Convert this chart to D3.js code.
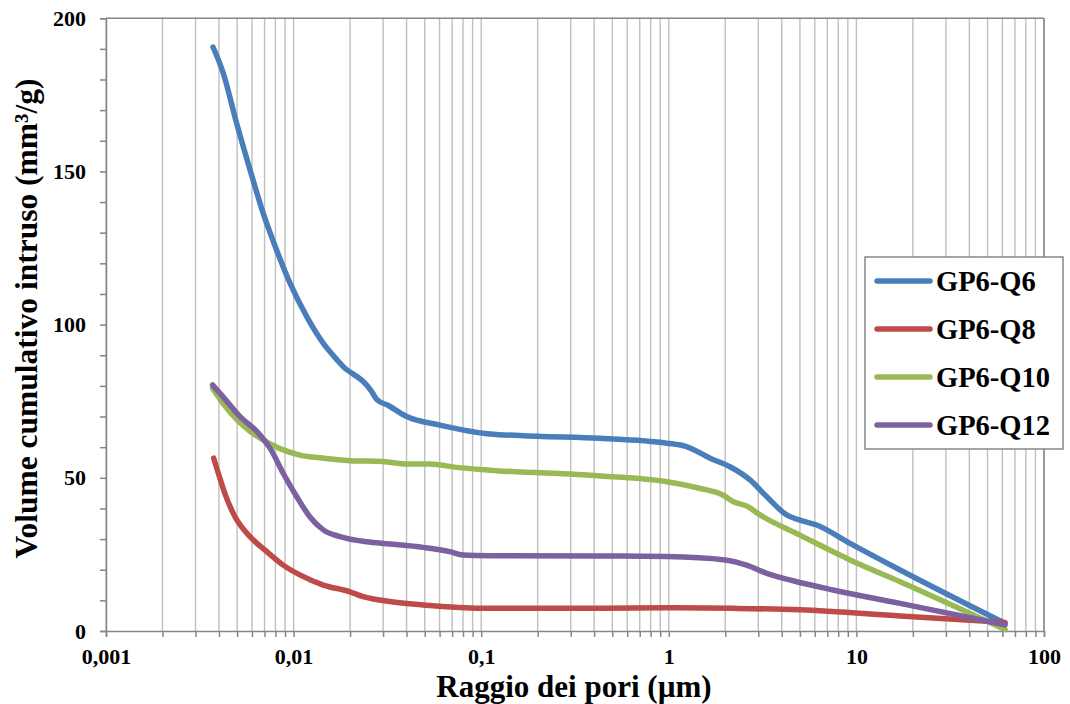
<!DOCTYPE html>
<html><head><meta charset="utf-8">
<script src="https://cdn.jsdelivr.net/npm/d3@7"></script>
<style>body{margin:0;background:#fff}svg{display:block}</style>
</head><body><svg id="c" width="1070" height="704"></svg>
<script>
const seriesNames = ["GP6-Q6","GP6-Q8","GP6-Q10","GP6-Q12"];
const seriesColors = ["#4A7EBB","#BE4B48","#98B954","#7D60A0"];
const q6X = [0.00372,0.00422,0.00497,0.00586,0.00689,0.00812,0.00957,0.01175,0.0144,0.0156,0.0184,0.0245,0.0261,0.0277,0.032,0.0401,0.0603,0.111,0.2,0.43,0.975,1.24,1.66,2.12,2.71,3.33,4.25,5.0,6.14,9.25,17.1,62];
const q6Y = [190.6,182,165.7,150.5,136.3,124.3,113.5,102.6,93.9,91.2,86.3,80.3,78.1,75.6,73.6,70.0,67.2,64.3,63.6,62.9,61.3,60.2,56.4,53.6,49.3,43.8,37.9,36.2,34.6,28.6,19.9,2.5];
const q8X = [0.00375,0.00397,0.0043,0.00487,0.00586,0.0072,0.0088,0.0108,0.0144,0.02,0.0235,0.0326,0.049,0.111,0.43,0.975,2.21,5.0,17.1,62];
const q8Y = [56.4,51.5,44.9,37.3,30.8,25.9,21.5,18.3,15.0,12.8,11.2,9.6,8.5,7.4,7.4,7.6,7.4,6.9,4.9,2.8];
const q10X = [0.0037,0.0042,0.005,0.0059,0.0069,0.0084,0.0108,0.0144,0.02,0.03,0.04,0.053,0.074,0.111,0.43,0.975,1.45,1.94,2.21,2.6,3.06,5.0,9.25,17.1,62];
const q10Y = [79.2,74.3,68.9,65.0,62.3,59.6,57.4,56.4,55.6,55.3,54.5,54.5,53.4,52.5,50.6,48.7,46.6,44.4,42.2,40.8,37.9,31.3,23.2,16.1,0.5];
const q12X = [0.0037,0.0042,0.0052,0.0064,0.0075,0.0088,0.0104,0.0122,0.0144,0.0177,0.0245,0.0326,0.049,0.068,0.080,0.111,0.43,0.975,2.0,2.6,3.33,4.6,7.5,17.1,62];
const q12Y = [80.3,76.5,69.9,65.0,59.6,51.5,43.8,37.3,33.0,30.8,29.1,28.4,27.3,25.9,24.8,24.6,24.5,24.3,23.2,21.5,18.8,16.4,13.4,9.0,2.0];
const xTickValues = [0.001,0.01,0.1,1,10,100];
const xTickLabels = ["0,001","0,01","0,1","1","10","100"];
const yTickValues = [0,50,100,150,200];
const xTitle = "Raggio dei pori (µm)";
const yTitle = "Volume cumulativo intruso (mm³/g)";

const seriesX = [q6X,q8X,q10X,q12X];
const seriesY = [q6Y,q8Y,q10Y,q12Y];
const FONT = "'Liberation Serif', 'Times New Roman', serif";

const svg = d3.select("#c");
const L=106, R=1044, T=18.2, B=631;
const x = d3.scaleLog().domain([0.001,100]).range([L,R]);
const y = d3.scaleLinear().domain([0,200]).range([B,T]);

const gridVals=[];
for(let k=-3;k<=1;k++) for(let m=1;m<=9;m++) gridVals.push(m*Math.pow(10,k));
gridVals.push(100);

svg.append("g").selectAll("line").data(gridVals).join("line")
  .attr("x1",d=>x(d)).attr("x2",d=>x(d)).attr("y1",T).attr("y2",B)
  .attr("stroke","#BFBFBF").attr("stroke-width",1.4);

svg.append("line").attr("x1",L).attr("x2",R).attr("y1",T).attr("y2",T).attr("stroke","#868686").attr("stroke-width",1.5);
svg.append("line").attr("x1",R).attr("x2",R).attr("y1",T).attr("y2",B).attr("stroke","#868686").attr("stroke-width",1.5);

const xAxis = d3.axisBottom(x).tickValues(gridVals).tickSize(6).tickFormat(d=>{const i=xTickValues.findIndex(v=>Math.abs(v-d)/d<1e-6);return i>=0?xTickLabels[i]:"";}).tickPadding(11);
const gx = svg.append("g").attr("transform",`translate(0,${B})`).call(xAxis);
gx.attr("font-family",null).attr("font-size",null);
gx.select(".domain").attr("stroke","#868686").attr("stroke-width",1.5);
gx.selectAll(".tick line").attr("stroke","#868686").attr("stroke-width",1.5);
gx.selectAll("text").style("font-family",FONT).style("font-weight","bold").style("font-size","22px").attr("fill","#000");

const yMinor = d3.range(0,201,10);
const yAxis = d3.axisLeft(y).tickValues(yMinor).tickSize(6).tickFormat(d=>yTickValues.includes(d)?String(d):"").tickPadding(14);
const gy = svg.append("g").attr("transform",`translate(${L},0)`).call(yAxis);
gy.attr("font-family",null).attr("font-size",null);
gy.select(".domain").attr("stroke","#868686").attr("stroke-width",1.5);
gy.selectAll(".tick line").attr("stroke","#868686").attr("stroke-width",1.5);
gy.selectAll("text").style("font-family",FONT).style("font-weight","bold").style("font-size","22px").attr("fill","#000");

const line = d3.line().x(d=>x(d[0])).y(d=>y(d[1])).curve(d3.curveMonotoneX);
seriesNames.forEach((n,i)=>{
  const pts = seriesX[i].map((v,j)=>[v,seriesY[i][j]]);
  svg.append("path").datum(pts).attr("d",line).attr("fill","none")
    .attr("stroke",seriesColors[i]).attr("stroke-width",5.5)
    .attr("stroke-linecap","round").attr("stroke-linejoin","round");
});

const lg = svg.append("g");
lg.append("rect").attr("x",865).attr("y",257).attr("width",198).attr("height",192)
  .attr("fill","#fff").attr("stroke","#868686").attr("stroke-width",1.5);
seriesNames.forEach((n,i)=>{
  const cy = 281 + i*48;
  lg.append("line").attr("x1",877).attr("x2",930).attr("y1",cy).attr("y2",cy)
    .attr("stroke",seriesColors[i]).attr("stroke-width",5.5).attr("stroke-linecap","round");
  lg.append("text").attr("x",936).attr("y",cy+9.5)
    .style("font-family",FONT).style("font-weight","bold").style("font-size","28.5px").text(n);
});

svg.append("text").attr("x",574).attr("y",697).attr("text-anchor","middle")
  .style("font-family",FONT).style("font-weight","bold").style("font-size","31px").text(xTitle);
svg.append("text").attr("transform","translate(37,318.5) rotate(-90)").attr("text-anchor","middle")
  .style("font-family",FONT).style("font-weight","bold").style("font-size","31.5px").text(yTitle);
</script></body></html>
